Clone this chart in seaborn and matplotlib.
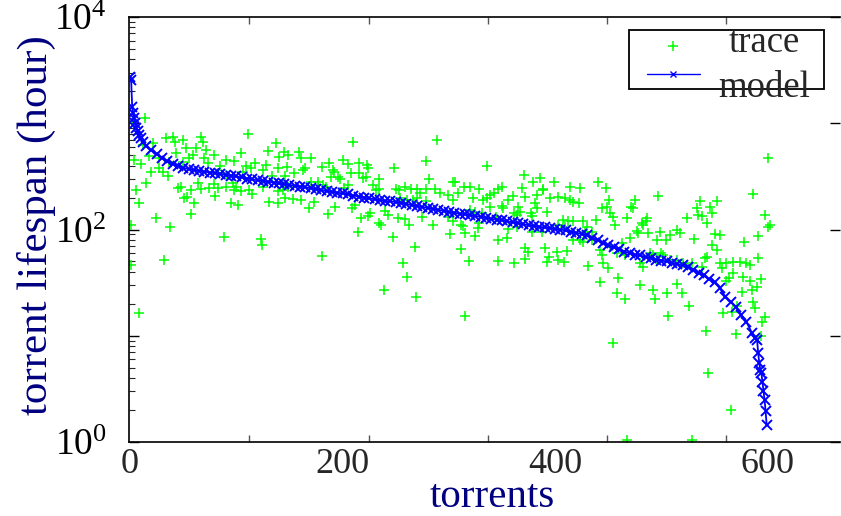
import numpy as np
import matplotlib.pyplot as plt
import seaborn as sns
from matplotlib.patches import Rectangle
from matplotlib.lines import Line2D
from matplotlib.ticker import FixedLocator, FuncFormatter, LogLocator, NullFormatter

# model curve (torrent rank -> lifespan in hours)
model_torrent = [0, 1, 2, 3, 4, 5, 6, 7, 8, 10, 12, 15, 20, 25, 30, 35, 40, 45, 50, 55,
                 60, 65, 70, 75, 80, 85, 90, 95, 100, 105, 110, 115, 120, 125, 130, 135,
                 140, 145, 150, 155, 160, 165, 170, 175, 180, 185, 190, 195, 200, 205,
                 210, 215, 220, 225, 230, 235, 240, 245, 250, 255, 260, 265, 270, 275,
                 280, 285, 290, 295, 300, 305, 310, 315, 320, 325, 330, 335, 340, 345,
                 350, 355, 360, 365, 370, 375, 380, 385, 390, 395, 400, 405, 410, 415,
                 420, 425, 430, 435, 440, 445, 450, 455, 460, 465, 470, 475, 480, 485,
                 490, 495, 500, 505, 510, 515, 520, 525, 530, 535, 540, 545, 550, 555,
                 560, 565, 570, 575, 580, 585, 588, 590, 591, 592, 593, 594, 595, 596,
                 597, 598, 599]
model_hours = [2750, 2570, 1410, 1260, 1120, 1000, 910, 850, 780, 720, 660, 617, 556, 513,
               468, 437, 417, 398, 380, 372, 363, 356, 351, 344, 339, 333, 327, 321, 316,
               309, 302, 296, 292, 286, 282, 277, 272, 267, 263, 258, 254, 249, 245, 240,
               234, 230, 226, 222, 219, 214, 209, 204, 200, 196, 193, 189, 186, 184, 182,
               178, 174, 170, 166, 163, 160, 157, 153, 150, 146, 144, 141, 139, 136, 134,
               132, 129, 126, 124, 122, 119, 117, 115, 112, 110, 108, 106, 105, 103, 101,
               100, 98, 95, 93, 91, 88, 84, 79, 75, 71, 68, 65, 62, 60, 58, 57, 55, 54,
               52, 51, 50, 48, 47, 46, 44, 42, 39, 37, 34, 32, 28, 23.4, 20.9, 18.6, 15.8,
               13.5, 10.7, 9.5, 9.1, 6.9, 5.6, 4.8, 4.5, 3.7, 3.0, 2.5, 1.95, 1.45]

# measured trace (torrent rank, lifespan in hours)
trace_torrent = [
    14, 3, 34, 40, 42, 50, 67, 69, 111, 137, 12, 22, 53, 62, 71, 43, 59, 79, 104, 130,
    145, 149, 18, 27, 55, 70, 90, 98, 140, 4, 10, 37, 50, 73, 85, 109, 118, 128, 114, 139,
    148, 20, 27, 31, 36, 83, 90, 106, 125, 134, 146, 15, 64, 79, 83, 90, 97, 100, 125, 144,
    149, 6, 45, 48, 57, 67, 74, 98, 104, 112, 115, 139, 144, 51, 60, 54, 80, 95, 102, 131,
    139, 146, 8, 24, 57, 1, 38, 88, 123, 124, 32, 1, 8,
    210, 289, 159, 161, 170, 278, 154, 165, 163, 181, 187, 200, 205, 215, 223, 224, 191, 192,
    208, 215, 219, 222, 189, 196, 198, 248, 281, 304, 234, 170, 177, 177, 182, 184, 205, 201,
    229, 234, 231, 250, 253, 259, 264, 270, 278, 287, 273, 292, 299, 304, 153, 161, 173, 168,
    193, 212, 209, 226, 186, 240, 243, 254, 266, 270, 278, 261, 252, 259, 262, 275, 299, 304,
    217, 224, 234, 236, 285, 214, 247, 301, 268, 181,
    239, 269, 261, 257, 311, 319, 346, 361, 372, 374, 392, 394, 402, 408, 411, 431, 442, 315,
    336, 371, 379, 386, 399, 440, 306, 309, 314, 320, 328, 350, 346, 369, 389, 414, 423, 448,
    323, 332, 336, 339, 342, 356, 360, 372, 383, 389, 395, 403, 409, 414, 417, 422, 451, 381,
    339, 350, 351, 365, 367, 364, 361, 383, 392, 449, 444, 452, 454, 320, 325, 331, 344, 377,
    378, 311, 313, 328, 327, 315, 325, 356, 355, 346, 364, 378, 388, 407, 412, 417, 403, 409,
    426, 438, 430, 428, 435, 456, 417, 423, 426, 435, 390, 442, 444, 372, 403,
    600, 586, 497, 475, 473, 471, 536, 533, 552, 546, 548, 534, 538, 524, 468, 486, 485, 482,
    483, 543, 597, 602, 600, 477, 478, 487, 499, 515, 517, 550, 555,
    591, 578, 548, 552, 531, 508, 504, 496, 452, 458, 463, 470, 466, 445, 450, 480, 483, 489,
    492, 500, 501, 496, 508, 515, 520, 524, 529, 538, 541, 543, 555, 561, 567, 574, 580, 583,
    591, 557, 564, 561, 567, 577, 583, 594, 576, 585, 590, 459, 458, 466, 480, 492, 494, 505,
    515, 519, 526, 506, 558, 566, 571, 586, 588, 597, 595, 542, 570, 594, 454, 544, 565, 468,
    529,
]
trace_hours = [
    1120, 1028, 730, 743, 667, 695, 743, 667, 792, 650, 624, 650, 585, 585, 560, 530, 502, 502,
    520, 548, 536, 502, 490, 471, 471, 471, 451, 441, 480, 451, 414, 432, 432, 423, 396, 396,
    423, 405, 379, 379, 388, 348, 379, 348, 318, 340, 326, 348, 363, 318, 318, 274, 274, 268,
    246, 251, 274, 251, 251, 274, 251, 235, 246, 251, 235, 240, 246, 235, 228, 235, 216, 228,
    235, 198, 178, 202, 206, 178, 170, 182, 178, 198, 178, 128, 140, 110, 106, 85, 82, 71, 52,
    46, 16.4,
    667, 695, 536, 471, 471, 441, 340, 379, 363, 388, 423, 451, 414, 423, 405, 379, 363, 348,
    340, 340, 305, 312, 312, 312, 298, 379, 298, 280, 298, 280, 280, 262, 262, 251, 262, 246,
    262, 240, 235, 240, 235, 251, 240, 240, 240, 240, 221, 221, 211, 190, 194, 190, 182, 159,
    162, 170, 159, 143, 140, 149, 137, 198, 190, 198, 186, 190, 128, 125, 110, 131, 131, 120,
    128, 134, 115, 110, 110, 95, 85, 91, 69, 56,
    27, 23, 36, 48, 66, 50, 50, 48, 67, 62, 49, 55, 62, 49, 63, 45, 32, 15.3,
    396, 326, 280, 305, 280, 280, 280, 221, 251, 251, 240, 251, 240, 246, 240, 251, 246, 246,
    198, 190, 198, 211, 221, 190, 206, 202, 211, 235, 198, 202, 198, 190, 182, 178, 190, 178,
    163, 166, 159, 163, 146, 137, 143, 159, 146, 163, 159, 143, 131, 153, 146, 143, 131, 143,
    134, 110, 107, 115, 103, 93, 86, 101, 83, 80, 106, 95, 95, 123, 119, 119, 110, 106,
    119, 123, 106, 95, 95, 110, 80, 80, 77, 80, 67, 64, 58, 53, 52,
    471, 216, 206, 190, 159, 163, 186, 159, 186, 163, 143, 137, 134, 128, 128, 128, 119, 115,
    110, 115, 137, 110, 106, 97, 93, 93, 95, 99, 93, 91, 89,
    86, 76, 71, 64, 81, 88, 80, 80, 68, 60, 75, 83, 58, 48, 43, 48, 44, 60,
    58, 60, 58, 52, 52, 52, 48, 46, 48, 44, 54, 55, 48, 48, 49, 49, 48, 46,
    54, 43, 35, 33, 39, 36, 33, 34, 26, 27, 29, 35, 25, 22, 30, 27, 22, 25,
    31, 25, 19, 15.3, 16.4, 16.7, 19, 21, 18.3, 15, 13.5, 11.1, 10.4, 10, 8.5, 4.5, 2.0, 1.04,
    1.04,
]

x_tick_labels = [0, 200, 400, 600]

sns.set_style("ticks")
plt.rcParams["font.family"] = ["Liberation Serif", "DejaVu Serif"]
plt.rcParams["mathtext.fontset"] = "custom"
plt.rcParams["mathtext.rm"] = "Liberation Serif"
plt.rcParams["mathtext.it"] = "Liberation Serif:italic"

navy = "#000080"
green = "#00ff00"
blue = "#0000ff"

fig = plt.figure(figsize=(8.41, 5.16), dpi=100)
ax = fig.add_axes([0.1534, 0.1434, 0.8454, 0.8236])

sns.scatterplot(x=trace_torrent, y=trace_hours, marker="+", color=green, s=45,
                linewidth=1.1, ax=ax, zorder=2)
sns.lineplot(x=model_torrent, y=model_hours, color=blue, marker="x", markersize=6.5,
             markeredgewidth=1.4, markeredgecolor=blue, linewidth=1.3, estimator=None,
             ax=ax, zorder=3)

ax.set_yscale("log")
ax.set_ylim(1, 10000)
ax.set_xlim(-1, 668)

# y axis: decade ticks, labels on even exponents only
ax.yaxis.set_major_locator(FixedLocator([1, 10, 100, 1000, 10000]))
ax.yaxis.set_major_formatter(FuncFormatter(
    lambda v, _: r"$\mathregular{10^{%d}}$" % round(np.log10(v))
    if round(np.log10(v)) % 2 == 0 else ""))
ax.yaxis.set_minor_locator(LogLocator(base=10, subs=range(2, 10)))
ax.yaxis.set_minor_formatter(NullFormatter())
ax.tick_params(axis="y", which="major", direction="in", length=7, width=1,
               right=True, labelsize=27, pad=16, colors="black")
ax.tick_params(axis="y", which="minor", direction="in", length=4, width=0.8,
               left=True, right=False)

# x axis: labels at 0..600, tick marks at the original's odd spacing
ax.set_xticks(x_tick_labels)
ax.xaxis.set_minor_locator(FixedLocator([112.2 * k for k in range(1, 6)]))
ax.tick_params(axis="x", which="major", length=0, labelsize=26, pad=4)
ax.tick_params(axis="x", which="minor", direction="in", length=5, width=1,
               top=True, color="#555555")

for side in ["left", "bottom", "top"]:
    ax.spines[side].set_color("black")
    ax.spines[side].set_linewidth(1.2)
ax.spines["right"].set_visible(False)

ax.set_xlabel("torrents", fontsize=29.5, color=navy)
ax.xaxis.set_label_coords(0.511, -0.152)
ax.xaxis.label.set_verticalalignment("baseline")
ax.set_ylabel("torrent lifespan (hour)", fontsize=31, color=navy)
ax.yaxis.set_label_coords(-0.1025, 0.51)

# legend box drawn like the original (text spills out of the frame)
ax.add_patch(Rectangle((0.7037, 0.8306), 0.2738, 0.1384, transform=ax.transAxes,
                       facecolor="white", edgecolor="black", lw=1.3, zorder=5))
ax.add_line(Line2D([0.7654], [0.9318], transform=ax.transAxes, marker="+", color=green,
                   ms=6.5, mew=1.1, ls="none", zorder=6))
ax.add_line(Line2D([0.729, 0.803], [0.8659, 0.8659], transform=ax.transAxes, color=blue,
                   lw=1, zorder=6))
ax.add_line(Line2D([0.7654], [0.8659], transform=ax.transAxes, marker="x", color=blue,
                   ms=4.5, mew=1, ls="none", zorder=6))
ax.text(0.8933, 0.918, "trace", transform=ax.transAxes, ha="center", va="baseline",
        fontsize=26.5, zorder=7)
ax.text(0.8933, 0.8118, "model", transform=ax.transAxes, ha="center", va="baseline",
        fontsize=26.5, zorder=7)

fig.savefig("out.png", dpi=100)
